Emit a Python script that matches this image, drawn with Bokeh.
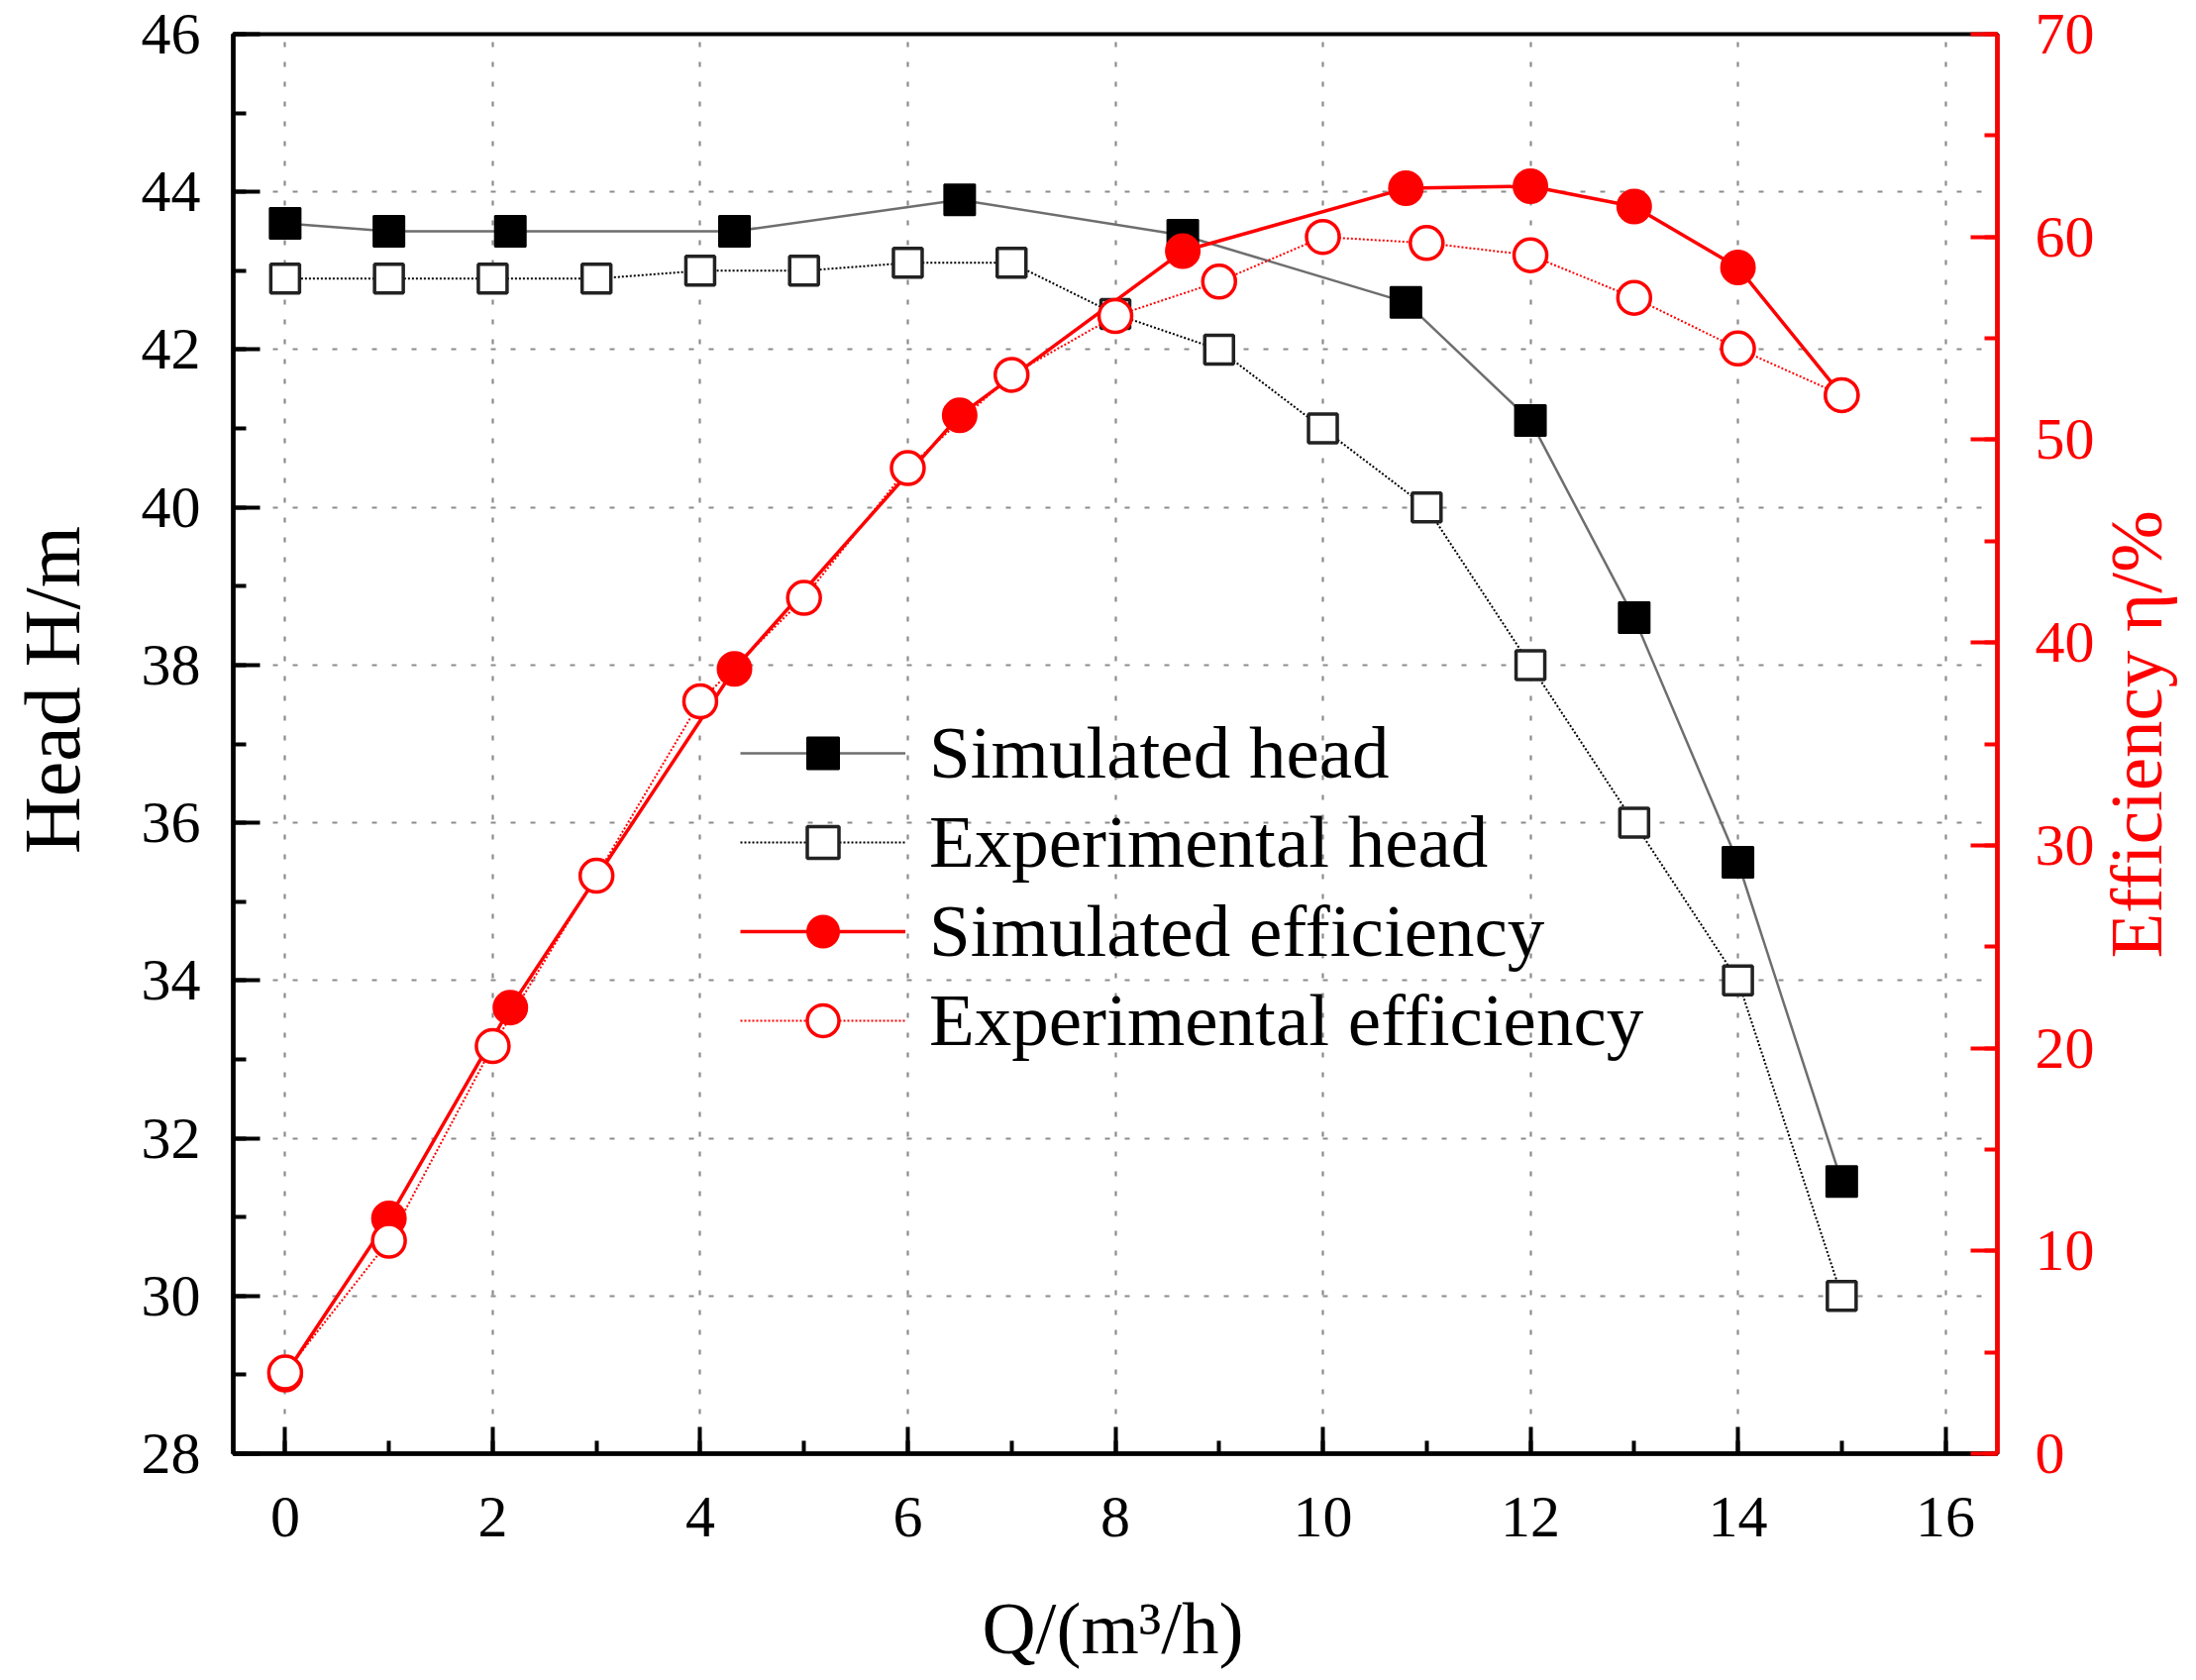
import math
from bokeh.plotting import figure
from bokeh.models import (Range1d, LinearAxis, SingleIntervalTicker, Legend, LegendItem, Label)
from bokeh.embed import file_html
from bokeh.resources import INLINE

# ---- data ----
q_sim = [0, 1, 2.17, 4.33, 6.5, 8.65, 10.8, 12, 13, 14, 15]
head_sim = [43.6, 43.5, 43.5, 43.5, 43.9, 43.45, 42.6, 41.1, 38.6, 35.5, 31.45]
eff_sim = [3.9, 11.6, 22.0, 38.7, 51.2, 59.3, 62.4, 62.5, 61.5, 58.5, 52.2]

q_exp = [0, 1, 2, 3, 4, 5, 6, 7, 8, 9, 10, 11, 12, 13, 14, 15]
head_exp = [42.9, 42.9, 42.9, 42.9, 43.0, 43.0, 43.1, 43.1, 42.45, 42.0, 41.0, 40.0, 38.0, 36.0, 34.0, 30.0]
eff_exp = [4.0, 10.5, 20.1, 28.5, 37.1, 42.2, 48.6, 53.2, 56.1, 57.8, 60.0, 59.7, 59.1, 57.0, 54.5, 52.2]

legend_labels = ["Simulated head", "Experimental head", "Simulated efficiency", "Experimental efficiency"]
x_title = "Q/(m\u00b3/h)"
y_title = "Head H/m"
y2_title = "Efficiency \u03b7/%"

RED = "#ff0000"
FONT = "Liberation Serif"

p = figure(width=2202, height=1688, x_range=Range1d(-0.5, 16.5), y_range=Range1d(28, 46),
           output_backend="svg", toolbar_location=None,
           min_border_left=235, min_border_right=186, min_border_top=34, min_border_bottom=221)
p.extra_y_ranges = {"eff": Range1d(0, 70)}
p.background_fill_color = "white"
p.border_fill_color = "white"
p.outline_line_color = "black"
p.outline_line_width = 4

# axes
xa = p.xaxis[0]
ya = p.yaxis[0]
xa.ticker = SingleIntervalTicker(interval=2, num_minor_ticks=2)
ya.ticker = SingleIntervalTicker(interval=2, num_minor_ticks=2)
ra = LinearAxis(y_range_name="eff", ticker=SingleIntervalTicker(interval=10, num_minor_ticks=2))
p.add_layout(ra, "right")

for ax, col, standoff in ((xa, "black", 44), (ya, "black", 33), (ra, RED, 38)):
    ax.axis_line_color = col
    ax.axis_line_width = 4.5
    ax.major_tick_line_color = col
    ax.minor_tick_line_color = col
    ax.major_tick_line_width = 4
    ax.minor_tick_line_width = 4
    ax.major_tick_in = 27
    ax.major_tick_out = 0
    ax.minor_tick_in = 13
    ax.minor_tick_out = 0
    ax.major_label_text_font = FONT
    ax.major_label_text_font_size = "60px"
    ax.major_label_text_color = col
    ax.major_label_standoff = standoff

# axis titles as labels in their own side panels (screen units relative to each panel)
def side_label(place, x, y, text, color, size="75px", angle=0.0, baseline="middle"):
    lab = Label(x=x, y=y, x_units="screen", y_units="screen", text=text, angle=angle,
                text_font=FONT, text_font_size=size, text_color=color,
                text_align="center", text_baseline=baseline)
    p.add_layout(lab, place)

side_label("left", 1, 771, y_title, "black", size="80px", angle=math.pi / 2)
side_label("below", 888, -7, x_title, "black", baseline="alphabetic")
side_label("right", 39, 726, y2_title, RED, angle=math.pi / 2)

# grid
for g in (p.xgrid[0], p.ygrid[0]):
    g.grid_line_color = "#8c8c8c"
    g.grid_line_width = 2.2
    g.grid_line_dash = "5 15"

# series
l1 = p.line(q_sim, head_sim, line_color="#6e6e6e", line_width=2.5)
s1 = p.scatter(q_sim, head_sim, marker="square", size=31, fill_color="black", line_color="black", line_width=2)

l2 = p.line(q_exp, head_exp, line_color="black", line_width=2, line_dash="2 2")
s2 = p.scatter(q_exp, head_exp, marker="square", size=29, fill_color="white", line_color="#222222", line_width=3.5)

l3 = p.line(q_sim, eff_sim, line_color=RED, line_width=3.5, y_range_name="eff")
s3 = p.scatter(q_sim, eff_sim, marker="circle", size=34, fill_color=RED, line_color=RED, line_width=2, y_range_name="eff")

l4 = p.line(q_exp, eff_exp, line_color=RED, line_width=2, line_dash="2 2", y_range_name="eff")
s4 = p.scatter(q_exp, eff_exp, marker="circle", size=33, fill_color="white", line_color=RED, line_width=3.5, y_range_name="eff")

legend = Legend(items=[
    LegendItem(label=legend_labels[0], renderers=[l1, s1]),
    LegendItem(label=legend_labels[1], renderers=[l2, s2]),
    LegendItem(label=legend_labels[2], renderers=[l3, s3]),
    LegendItem(label=legend_labels[3], renderers=[l4, s4]),
], location=(512, 392))
legend.label_text_font = FONT
legend.label_text_font_size = "75px"
legend.label_text_color = "black"
legend.glyph_width = 167
legend.glyph_height = 80
legend.label_height = 90
legend.label_standoff = 24
legend.spacing = 0
legend.padding = 0
legend.margin = 0
legend.border_line_alpha = 0
legend.background_fill_alpha = 0
p.add_layout(legend, "center")

open("out.html", "w").write(file_html(p, INLINE))
